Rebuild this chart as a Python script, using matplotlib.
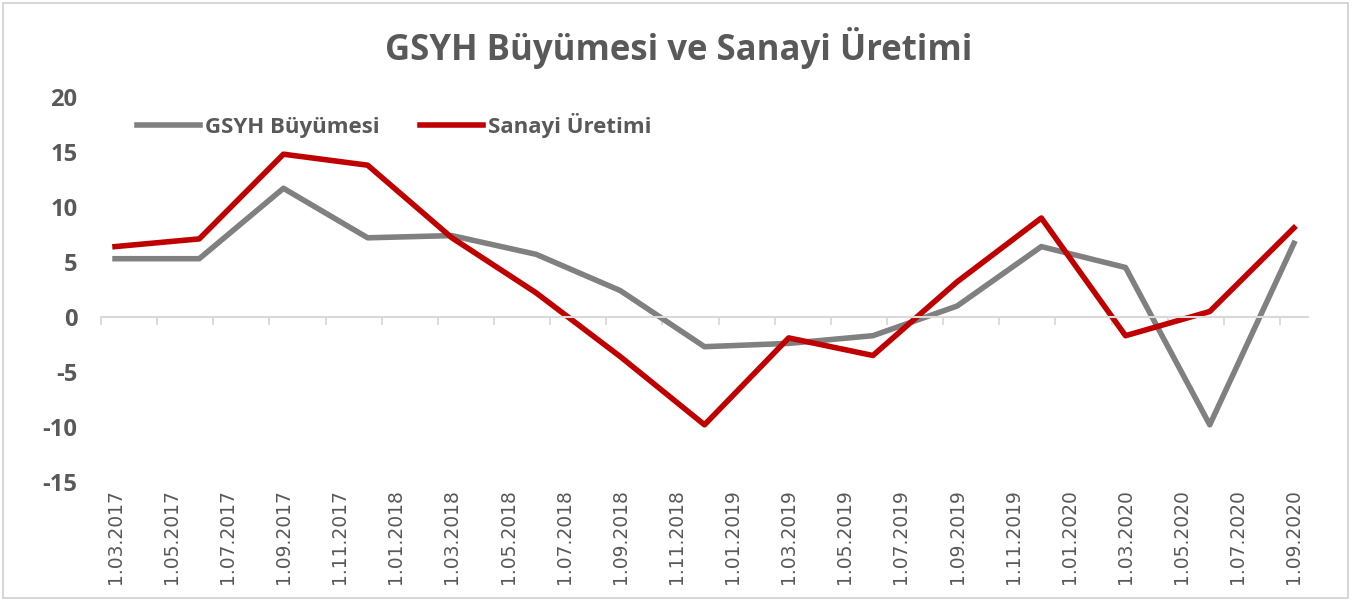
import matplotlib
matplotlib.use("Agg")
import matplotlib.pyplot as plt
from matplotlib.patches import Rectangle

# ---- data ----
dates = ["1.03.2017", "1.06.2017", "1.09.2017", "1.12.2017",
         "1.03.2018", "1.06.2018", "1.09.2018", "1.12.2018",
         "1.03.2019", "1.06.2019", "1.09.2019", "1.12.2019",
         "1.03.2020", "1.06.2020", "1.09.2020"]
gsyh = [5.3, 5.3, 11.7, 7.2, 7.4, 5.7, 2.4, -2.7, -2.4, -1.7, 1.0, 6.4, 4.5, -9.8, 6.7]
sanayi = [6.4, 7.1, 14.8, 13.8, 7.2, 2.2, -3.6, -9.8, -1.9, -3.5, 3.2, 9.0, -1.7, 0.5, 8.1]
tick_labels = ["1.03.2017", "1.05.2017", "1.07.2017", "1.09.2017", "1.11.2017",
               "1.01.2018", "1.03.2018", "1.05.2018", "1.07.2018", "1.09.2018",
               "1.11.2018", "1.01.2019", "1.03.2019", "1.05.2019", "1.07.2019",
               "1.09.2019", "1.11.2019", "1.01.2020", "1.03.2020", "1.05.2020",
               "1.07.2020", "1.09.2020"]
yticks = [-15, -10, -5, 0, 5, 10, 15, 20]
title = "GSYH Büyümesi ve Sanayi Üretimi"
series_names = ["GSYH Büyümesi", "Sanayi Üretimi"]


def month_index(s):
    d, m, y = s.split(".")
    return (int(y) - 2017) * 12 + int(m) - 3


x = [month_index(s) for s in dates]
xl = [month_index(s) for s in tick_labels]

W, H = 1357, 601
fig = plt.figure(figsize=(W / 100, H / 100), dpi=100)
fig.patch.set_facecolor("white")
fig.patches.append(Rectangle((3 / W, 3 / H), 1345 / W, 595 / H, transform=fig.transFigure,
                             fill=False, edgecolor="#D0D0D0", linewidth=1.2))

ax = fig.add_axes([101 / W, (H - 482) / H, 1207 / W, 385 / H])
grey_txt = "#595959"

ax.plot(x, gsyh, color="#808080", lw=4.0, label=series_names[0])
ax.plot(x, sanayi, color="#C00000", lw=4.0, label=series_names[1])

ax.set_xlim(-0.5, 42.5)
ax.set_ylim(-15, 20)

for s in ["top", "right", "left"]:
    ax.spines[s].set_visible(False)
ax.spines["bottom"].set_position(("data", 0))
ax.spines["bottom"].set_color("#D9D9D9")
ax.spines["bottom"].set_linewidth(1.5)
ax.set_xticks([v - 0.5 for v in xl])
ax.tick_params(axis="x", length=6, width=1.3, color="#D9D9D9", labelbottom=False)

ax.set_yticks(yticks)
ax.set_yticklabels([str(v) for v in yticks])
ax.tick_params(axis="y", length=0, pad=17, labelsize=17, labelcolor=grey_txt)
for t in ax.get_yticklabels():
    t.set_fontweight("bold")
    t.set_family("Open Sans")

sec = ax.secondary_xaxis("bottom")
sec.spines["bottom"].set_visible(False)
sec.set_xticks(xl)
sec.set_xticklabels(tick_labels, rotation=90, fontsize=13.5, color=grey_txt, family="DejaVu Sans")
sec.tick_params(length=0, pad=5)

fig.text(0.5, 1 - 48 / H, title, ha="center", va="center", fontsize=25,
         fontweight="bold", color=grey_txt, family="Open Sans")

leg = ax.legend(loc="center left", bbox_to_anchor=(137 / W, 1 - 125 / H),
                bbox_transform=fig.transFigure, ncol=2, frameon=False,
                fontsize=16, handlelength=2.85, handletextpad=0.22, columnspacing=1.8,
                borderpad=0, borderaxespad=0)
for t in leg.get_texts():
    t.set_color(grey_txt)
    t.set_fontweight("bold")
    t.set_family("Open Sans")

fig.savefig("out.png", dpi=100)
